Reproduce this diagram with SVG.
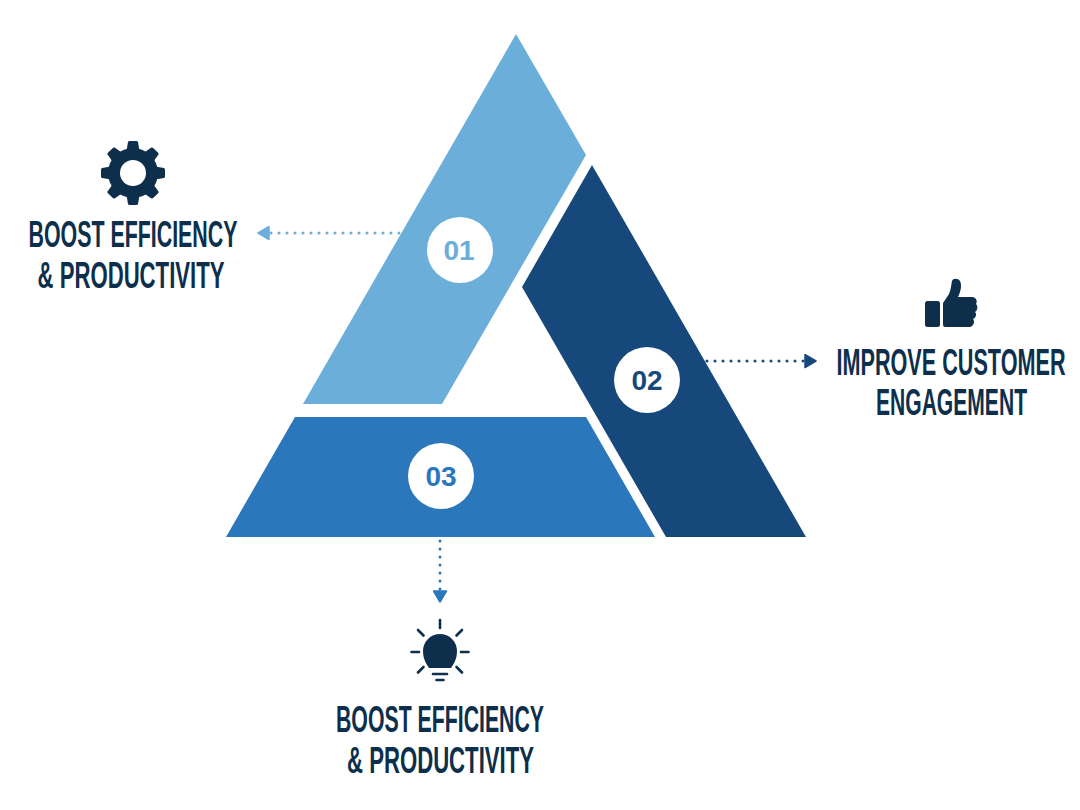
<svg xmlns="http://www.w3.org/2000/svg" width="1080" height="810" viewBox="0 0 1080 810">
<style>
.lbl{font-family:"Liberation Sans",Arial,sans-serif;font-weight:bold;font-size:22px;fill:#0E2F4C;text-anchor:middle}
.num{font-family:"Liberation Sans",Arial,sans-serif;font-weight:bold;font-size:28px;text-anchor:middle}
.dot{fill:none;stroke-width:3;stroke-linecap:round;stroke-dasharray:0 8}
.icon{fill:#0E2F4C}
.ray{stroke:#0E2F4C;stroke-width:2.6;stroke-linecap:round;fill:none}
</style>
<defs>
<marker id="arL" markerUnits="userSpaceOnUse" viewBox="0 0 13 15" refX="12" refY="7.5" markerWidth="13" markerHeight="15" orient="auto">
<path d="M1,1 L12,7.5 L1,14 Z" fill="#6AAED9" stroke="#6AAED9" stroke-width="1.5" stroke-linejoin="round"/>
</marker>
<marker id="arR" markerUnits="userSpaceOnUse" viewBox="0 0 13 15" refX="12" refY="7.5" markerWidth="13" markerHeight="15" orient="auto">
<path d="M1,1 L12,7.5 L1,14 Z" fill="#17487C" stroke="#17487C" stroke-width="1.5" stroke-linejoin="round"/>
</marker>
<marker id="arD" markerUnits="userSpaceOnUse" viewBox="0 0 13 15" refX="12" refY="7.5" markerWidth="13" markerHeight="15" orient="auto">
<path d="M1,1 L12,7.5 L1,14 Z" fill="#2A77BC" stroke="#2A77BC" stroke-width="1.5" stroke-linejoin="round"/>
</marker>
</defs>
<rect width="1080" height="810" fill="#FFFFFF"/>

<g id="connectors">
<line class="dot" x1="399" y1="233" x2="258" y2="233" stroke="#6AAED9" marker-end="url(#arL)"/>
<line class="dot" x1="707" y1="361" x2="816" y2="361" stroke="#17487C" marker-end="url(#arR)"/>
<line class="dot" x1="440" y1="541" x2="440" y2="602" stroke="#2A77BC" marker-end="url(#arD)"/>
</g>

<g id="node-01">
<polygon points="516,34 586,155 442,404 303,404" fill="#6AAED9"/>
<circle cx="460" cy="250" r="33" fill="#FFFFFF"/>
<text class="num" x="459" y="259.5" fill="#6AAED9">01</text>
</g>

<g id="node-02">
<polygon points="592,165 806,537 666,537 522,287" fill="#17487C"/>
<circle cx="647" cy="380" r="33" fill="#FFFFFF"/>
<text class="num" x="647" y="390" fill="#17487C">02</text>
</g>

<g id="node-03">
<polygon points="295,417 586,417 655,537 226,537" fill="#2A77BC"/>
<circle cx="441" cy="476" r="33" fill="#FFFFFF"/>
<text class="num" x="441" y="486" fill="#2A77BC">03</text>
</g>

<g id="label-left">
<g class="icon" transform="translate(133,173)">
<circle r="25"/>
<g id="tooth"><path d="M-6.5,-22 L-5,-31 Q-4.5,-32 -3.5,-32 L3.5,-32 Q4.5,-32 5,-31 L6.5,-22 Z"/></g>
<use href="#tooth" transform="rotate(45)"/>
<use href="#tooth" transform="rotate(90)"/>
<use href="#tooth" transform="rotate(135)"/>
<use href="#tooth" transform="rotate(180)"/>
<use href="#tooth" transform="rotate(225)"/>
<use href="#tooth" transform="rotate(270)"/>
<use href="#tooth" transform="rotate(315)"/>
<circle r="13" fill="#FFFFFF"/>
</g>
<text class="lbl" transform="translate(133,247) scale(1,1.65)" textLength="209" lengthAdjust="spacingAndGlyphs">BOOST EFFICIENCY</text>
<text class="lbl" transform="translate(131,288) scale(1,1.65)" textLength="187" lengthAdjust="spacingAndGlyphs">&amp; PRODUCTIVITY</text>
</g>

<g id="label-right">
<g class="icon">
<rect x="925" y="301" width="15" height="26" rx="2.5"/>
<path d="M943,303 L949,294 C951,290 951,285 952,281 C953,278 958,278 960,281 C962,285 961,291 958,297 L972,297 C976,297 978,301 976,304 C978,306 978,310 975,312 C977,314 976,318 973,319 C975,321 974,326 970,327 L945,327 C944,327 943,326 943,325 Z"/>
</g>
<text class="lbl" transform="translate(951,375) scale(1,1.65)" textLength="229" lengthAdjust="spacingAndGlyphs">IMPROVE CUSTOMER</text>
<text class="lbl" transform="translate(951.5,415) scale(1,1.65)" textLength="151" lengthAdjust="spacingAndGlyphs">ENGAGEMENT</text>
</g>

<g id="label-bottom">
<g>
<path class="icon" d="M429,668 C425.5,663 423,658 423,651 A17,17 0 0 1 457,651 C457,658 454.5,663 451,668 Z"/>
<line class="ray" x1="433" y1="674" x2="447" y2="674"/>
<line class="ray" x1="436.5" y1="680" x2="443.5" y2="680"/>
<line class="ray" x1="440" y1="620" x2="440" y2="628"/>
<line class="ray" x1="411.5" y1="652" x2="419" y2="652"/>
<line class="ray" x1="461" y1="652" x2="468.5" y2="652"/>
<line class="ray" x1="418" y1="630" x2="423.5" y2="635.5"/>
<line class="ray" x1="462" y1="630" x2="456.5" y2="635.5"/>
<line class="ray" x1="418" y1="672.5" x2="423.5" y2="667"/>
<line class="ray" x1="462" y1="672.5" x2="456.5" y2="667"/>
</g>
<text class="lbl" transform="translate(440,732) scale(1,1.65)" textLength="208" lengthAdjust="spacingAndGlyphs">BOOST EFFICIENCY</text>
<text class="lbl" transform="translate(440.5,773) scale(1,1.65)" textLength="187" lengthAdjust="spacingAndGlyphs">&amp; PRODUCTIVITY</text>
</g>
</svg>
